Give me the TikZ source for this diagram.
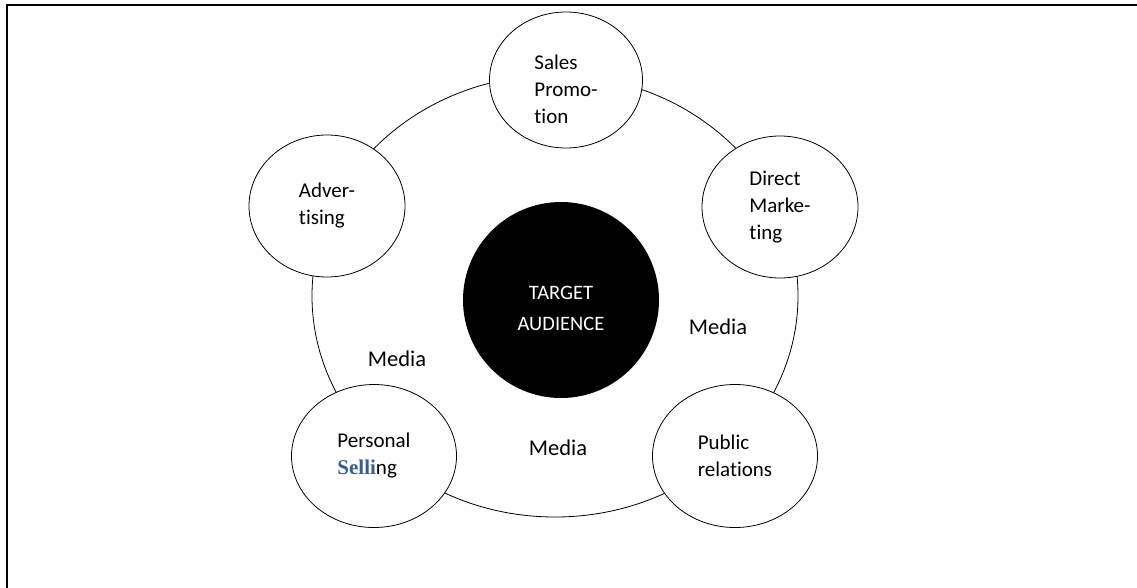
\documentclass[tikz,border=0pt]{standalone}
\usepackage{fontspec}
\setmainfont{Carlito}[Ligatures=NoCommon]
\newfontfamily\headfont{Liberation Serif}
\usetikzlibrary{shapes.geometric}
\definecolor{headblue}{HTML}{365F91}

\begin{document}
\begin{tikzpicture}[x=1pt,y=-1pt,line width=0.8pt,
  tool/.style={draw,ellipse,fill=white,minimum width=156pt,minimum height=142pt,
    inner sep=0pt,align=left,font=\fontsize{21}{27}\selectfont},
  media/.style={anchor=base,inner sep=0pt,font=\fontsize{22.5}{27}\selectfont}]
\useasboundingbox (0,0) rectangle (1137,587);
% page frame, open at the bottom and right
\draw[line width=2pt] (7,600) -- (7,5) -- (1150,5);

% outer ring linking the tools
\node[draw,ellipse,minimum width=486pt,minimum height=442pt] (ring) at (555,296) {};

% target in the middle, its text sits a bit low
\node[circle,fill=black,minimum size=196pt,inner sep=0pt] (aud) at (561,300) {};
\node[text=white,align=center,yshift=-8pt,font=\fontsize{20.5}{31}\selectfont]
  (audtxt) at (aud) {TARGET\\AUDIENCE};

% the five tools
\node[tool,minimum width=153pt,minimum height=136pt] (promo) at (566,80) {};
\node[tool,draw=none,fill=none,yshift=-9pt] (promotxt) at (promo) {Sales\\Promo-\\tion};
\node[tool] (adv) at (327,206) {Adver-\\tising};
\node[tool] (direct) at (780,207) {Direct\\Marke-\\ting};
\node[tool,minimum width=165pt,minimum height=143pt] (sell) at (374,456) {Personal\\{\headfont\bfseries\color{headblue}Selli}ng};
\node[tool,minimum width=165pt,minimum height=143pt] (pr) at (735,456) {Public\\relations};

% media between them
\node[media] (medl) at (397,366) {Media};
\node[media] (medr) at (718,334) {Media};
\node[media] (medb) at (558,455) {Media};
\end{tikzpicture}
\end{document}
